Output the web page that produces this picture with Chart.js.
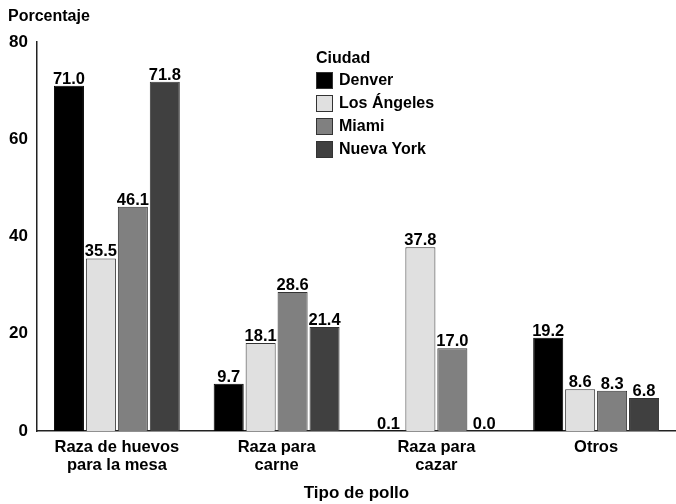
<!DOCTYPE html>
<html>
<head>
<meta charset="utf-8">
<script src="https://cdn.jsdelivr.net/npm/chart.js@4.4.1/dist/chart.umd.min.js"></script>
<style>
    html, body { margin: 0; padding: 0; background: #fff; }
    #wrap { width: 676px; height: 504px; }
</style>
</head>
<body>
<div id="wrap"><canvas id="pollo"></canvas></div>
<script>
// categorias (eje x) y ciudades
const categorias = [['Raza de huevos', 'para la mesa'], ['Raza para', 'carne'], ['Raza para', 'cazar'], 'Otros'];
const ciudades = ['Denver', 'Los Ángeles', 'Miami', 'Nueva York'];

// porcentajes por ciudad
const denver = [71.0, 9.7, 0.1, 19.2];
const losAngeles = [35.5, 18.1, 37.8, 8.6];
const miami = [46.1, 28.6, 17.0, 8.3];
const nuevaYork = [71.8, 21.4, 0.0, 6.8];

const yTicks = [0, 20, 40, 60, 80];

const colores = ['#000000', '#e0e0e0', '#808080', '#404040'];
const FONT = '"Liberation Sans", Arial, sans-serif';

// etiquetas de valor encima de cada barra
const etiquetas = {
    id: 'etiquetas',
    afterDatasetsDraw(chart) {
        const ctx = chart.ctx;
        ctx.save();
        ctx.font = 'bold 16.5px ' + FONT;
        ctx.fillStyle = '#000';
        ctx.textAlign = 'center';
        ctx.textBaseline = 'alphabetic';
        chart.data.datasets.forEach((ds, i) => {
            chart.getDatasetMeta(i).data.forEach((bar, j) => {
                ctx.fillText(ds.data[j].toFixed(1), bar.x, bar.y - 2);
            });
        });
        ctx.restore();
    }
};

// leyenda "Ciudad" y titulo del eje y
const leyenda = {
    id: 'leyenda',
    afterDraw(chart) {
        const ctx = chart.ctx;
        ctx.save();
        ctx.fillStyle = '#000';
        ctx.textAlign = 'left';
        ctx.textBaseline = 'alphabetic';
        ctx.font = 'bold 16px ' + FONT;
        ctx.fillText('Porcentaje', 8, 21);

        ctx.font = 'bold 16px ' + FONT;
        ctx.fillText('Ciudad', 316, 63);
        chart.data.datasets.forEach((ds, i) => {
            const y = 72 + i * 23;
            ctx.fillStyle = ds.backgroundColor;
            ctx.fillRect(316, y, 17, 17);
            ctx.strokeStyle = '#333';
            ctx.lineWidth = 1;
            ctx.strokeRect(316.5, y + 0.5, 16, 16);
            ctx.fillStyle = '#000';
            ctx.textBaseline = 'middle';
            ctx.fillText(ds.label, 339, y + 9);
            ctx.textBaseline = 'alphabetic';
        });
        ctx.restore();
    }
};

const series = [denver, losAngeles, miami, nuevaYork];

new Chart(document.getElementById('pollo'), {
    type: 'bar',
    data: {
        labels: categorias,
        datasets: series.map((valores, i) => ({
            label: ciudades[i],
            data: valores,
            backgroundColor: colores[i],
            borderColor: i === 0 ? '#000' : '#333',
            borderWidth: 1,
            categoryPercentage: 0.8,
            barPercentage: 0.94,
        })),
    },
    options: {
        responsive: true,
        maintainAspectRatio: false,
        animation: false,
        layout: { padding: { top: 42, right: 0, bottom: 0, left: 0 } },
        plugins: {
            legend: { display: false },
            tooltip: { enabled: false },
        },
        scales: {
            x: {
                grid: { display: false, drawTicks: false },
                border: { display: true, color: '#222', width: 1.5 },
                ticks: {
                    color: '#000',
                    padding: 8,
                    font: { family: FONT, size: 16.5, weight: 'bold', lineHeight: 1.05 },
                    maxRotation: 0,
                    autoSkip: false,
                },
                title: {
                    display: true,
                    text: 'Tipo de pollo',
                    color: '#000',
                    font: { family: FONT, size: 17, weight: 'bold' },
                    padding: { top: 0, bottom: 0 },
                },
                afterFit(scale) { scale.height = 73; },
            },
            y: {
                min: 0,
                max: 80,
                afterBuildTicks(scale) { scale.ticks = yTicks.map(v => ({ value: v })); },
                grid: { display: false, drawTicks: false },
                border: { display: true, color: '#222', width: 1.5 },
                ticks: {
                    color: '#000',
                    padding: 9,
                    font: { family: FONT, size: 17, weight: 'bold' },
                },
                afterFit(scale) { scale.width = 37; },
            },
        },
    },
    plugins: [etiquetas, leyenda],
});
</script>
</body>
</html>
